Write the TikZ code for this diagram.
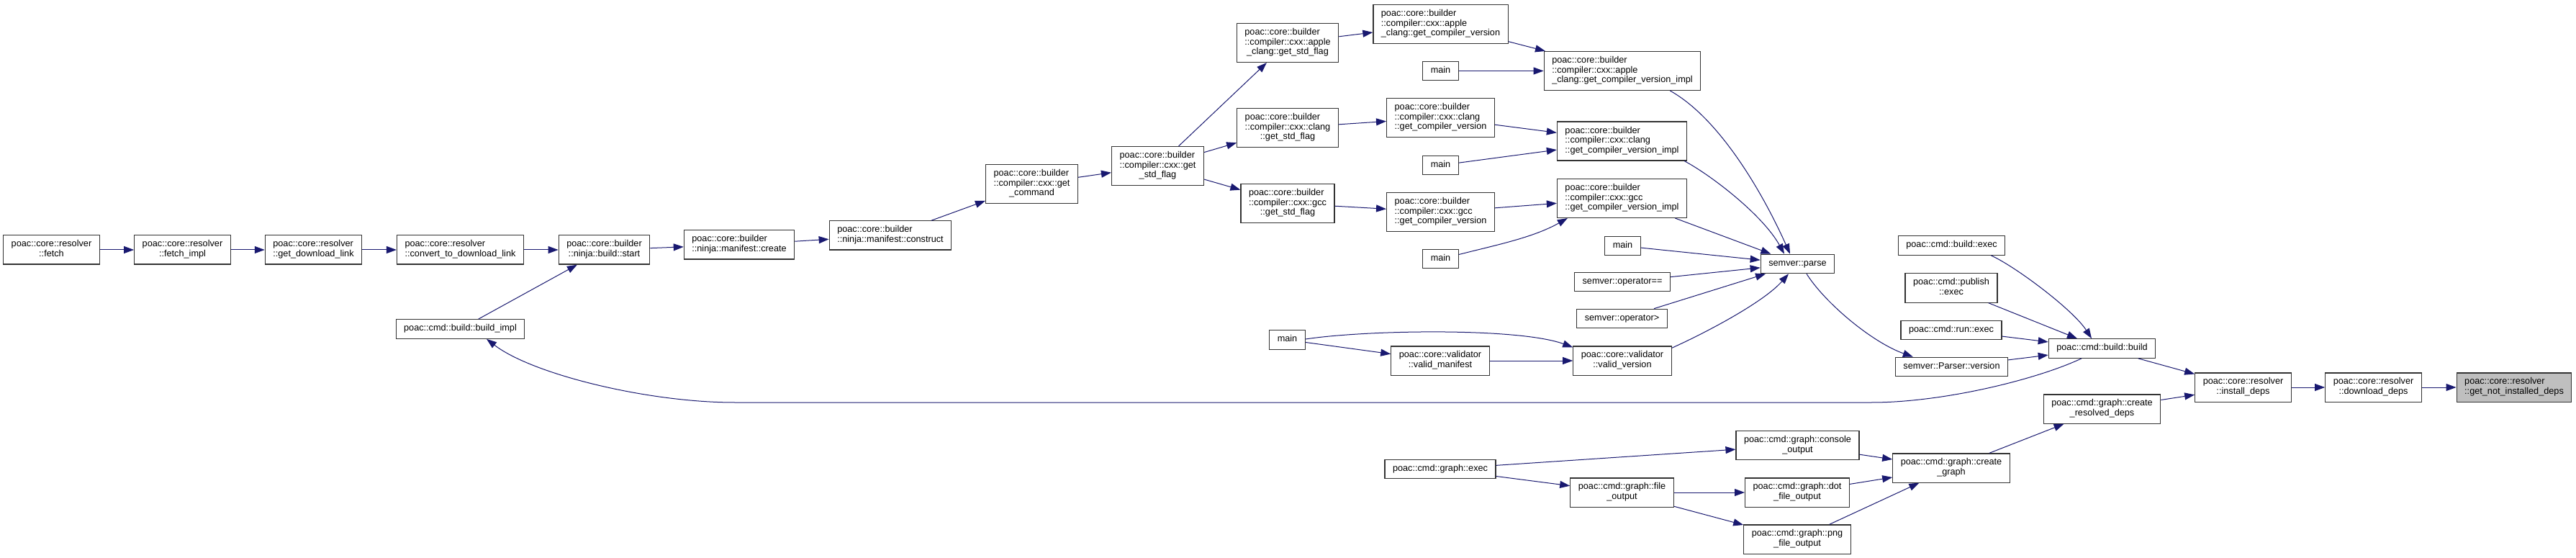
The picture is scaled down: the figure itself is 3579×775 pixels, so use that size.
\documentclass[tikz,border=0pt]{standalone}
\usepackage{fontspec}
\setmainfont{Liberation Sans}
\usetikzlibrary{arrows.meta}
\definecolor{navyedge}{HTML}{191970}
\definecolor{rootgray}{HTML}{BFBFBF}
\definecolor{boxline}{HTML}{333333}
\newcommand{\lbli}[1]{\begin{tabular}{@{}l@{}}#1\end{tabular}}
\newcommand{\lblii}[2]{\begin{tabular}{@{}l@{}}#1\\\multicolumn{1}{@{}c@{}}{#2}\end{tabular}}
\newcommand{\lbliii}[3]{\begin{tabular}{@{}l@{}}#1\\#2\\\multicolumn{1}{@{}c@{}}{#3}\end{tabular}}
\begin{document}
\begin{tikzpicture}[x=1pt,y=-1pt,
  box/.style={draw=boxline, line width=1.2pt, fill=white, inner xsep=11pt, inner ysep=6.4pt,
    font=\fontsize{12.7}{13.7}\selectfont},
  rootbox/.style={box, fill=rootgray},
  calls/.style={draw=navyedge, line width=1pt, -{Triangle[length=14pt,width=10pt]}}]
\fill[white] (0,0) rectangle (3579,775);
\useasboundingbox (0,0) rectangle (3579,775);

% left chain
\node[box] (fetch) at (71.5,347) {\lblii{poac::core::resolver}{::fetch}};
\node[box] (fetchimpl) at (253.5,347) {\lblii{poac::core::resolver}{::fetch\_impl}};
\node[box] (getdl) at (435.5,347) {\lblii{poac::core::resolver}{::get\_download\_link}};
\node[box] (convert) at (639.5,347) {\lblii{poac::core::resolver}{::convert\_to\_download\_link}};
\node[box] (buildimpl) at (639.5,457) {\lbli{poac::cmd::build::build\_impl}};
\node[box] (start) at (839.5,347) {\lblii{poac::core::builder}{::ninja::build::start}};
\node[box] (create) at (1027,340) {\lblii{poac::core::builder}{::ninja::manifest::create}};
\node[box] (construct) at (1237,327) {\lblii{poac::core::builder}{::ninja::manifest::construct}};
\node[box] (getcmd) at (1433.5,255.5) {\lbliii{poac::core::builder}{::compiler::cxx::get}{\_command}};
\node[box] (getstd) at (1608.5,230.5) {\lbliii{poac::core::builder}{::compiler::cxx::get}{\_std\_flag}};

% std flag column
\node[box] (applestd) at (1789,59.5) {\lbliii{poac::core::builder}{::compiler::cxx::apple}{\_clang::get\_std\_flag}};
\node[box] (clangstd) at (1789,177.5) {\lbliii{poac::core::builder}{::compiler::cxx::clang}{::get\_std\_flag}};
\node[box] (gccstd) at (1789,282.5) {\lbliii{poac::core::builder}{::compiler::cxx::gcc}{::get\_std\_flag}};
\node[box] (mainE) at (1788.5,472) {\lbli{main}};

% compiler version column
\node[box] (applever) at (2001.5,33.5) {\lbliii{poac::core::builder}{::compiler::cxx::apple}{\_clang::get\_compiler\_version}};
\node[box] (mainA) at (2001.5,98.5) {\lbli{main}};
\node[box] (clangver) at (2001.5,163.5) {\lbliii{poac::core::builder}{::compiler::cxx::clang}{::get\_compiler\_version}};
\node[box] (mainB) at (2001.5,229.5) {\lbli{main}};
\node[box] (gccver) at (2001.5,294.5) {\lbliii{poac::core::builder}{::compiler::cxx::gcc}{::get\_compiler\_version}};
\node[box] (mainC) at (2001.5,359.5) {\lbli{main}};
\node[box] (validman) at (2001,501) {\lblii{poac::core::validator}{::valid\_manifest}};
\node[box] (gexec) at (2001,651.5) {\lbli{poac::cmd::graph::exec}};

% impl column
\node[box] (appleimpl) at (2254,98.5) {\lbliii{poac::core::builder}{::compiler::cxx::apple}{\_clang::get\_compiler\_version\_impl}};
\node[box] (clangimpl) at (2253.5,196) {\lbliii{poac::core::builder}{::compiler::cxx::clang}{::get\_compiler\_version\_impl}};
\node[box] (gccimpl) at (2253.5,275.5) {\lbliii{poac::core::builder}{::compiler::cxx::gcc}{::get\_compiler\_version\_impl}};
\node[box] (mainD) at (2254.5,341.5) {\lbli{main}};
\node[box] (opeq) at (2254,391.5) {\lbli{semver::operator==}};
\node[box] (opgt) at (2253.5,442.5) {\lbli{semver::operator>}};
\node[box] (validver) at (2254,501) {\lblii{poac::core::validator}{::valid\_version}};
\node[box] (fileout) at (2253.5,684) {\lblii{poac::cmd::graph::file}{\_output}};

% parse column
\node[box] (parse) at (2497.5,366.5) {\lbli{semver::parse}};
\node[box] (console) at (2497.5,618.5) {\lblii{poac::cmd::graph::console}{\_output}};
\node[box] (dotout) at (2497,684) {\lblii{poac::cmd::graph::dot}{\_file\_output}};
\node[box] (pngout) at (2497,749) {\lblii{poac::cmd::graph::png}{\_file\_output}};

% exec column
\node[box] (bexec) at (2711.5,341) {\lbli{poac::cmd::build::exec}};
\node[box] (pexec) at (2711,400) {\lblii{poac::cmd::publish}{::exec}};
\node[box] (rexec) at (2711,458.5) {\lbli{poac::cmd::run::exec}};
\node[box] (pversion) at (2711.5,509.5) {\lbli{semver::Parser::version}};
\node[box] (cgraph) at (2711,650) {\lblii{poac::cmd::graph::create}{\_graph}};

% right part
\node[box] (bbuild) at (2920.5,484) {\lbli{poac::cmd::build::build}};
\node[box] (crdeps) at (2920.5,568) {\lblii{poac::cmd::graph::create}{\_resolved\_deps}};
\node[box] (install) at (3116.5,538) {\lblii{poac::core::resolver}{::install\_deps}};
\node[box] (download) at (3297.5,538) {\lblii{poac::core::resolver}{::download\_deps}};
\node[rootbox] (notinst) at (3493,538) {\lblii{poac::core::resolver}{::get\_not\_installed\_deps}};

% edges
\draw[calls] (fetch) -- (fetchimpl);
\draw[calls] (fetchimpl) -- (getdl);
\draw[calls] (getdl) -- (convert);
\draw[calls] (convert) -- (start);
\draw[calls] (buildimpl) -- (start);
\draw[calls] (start) -- (create);
\draw[calls] (create) -- (construct);
\draw[calls] (construct) -- (getcmd);
\draw[calls] (getcmd) -- (getstd);
\draw[calls] (getstd) -- (applestd);
\draw[calls] (getstd) -- (clangstd);
\draw[calls] (getstd) -- (gccstd);
\draw[calls] (applestd) -- (applever);
\draw[calls] (clangstd) -- (clangver);
\draw[calls] (gccstd) -- (gccver);
\draw[calls] (applever) -- (appleimpl);
\draw[calls] (mainA) -- (appleimpl);
\draw[calls] (clangver) -- (clangimpl);
\draw[calls] (mainB) -- (clangimpl);
\draw[calls] (gccver) -- (gccimpl);
\draw[calls] ([yshift=6pt]mainC.east) .. controls (2080,340) and (2130,330) .. ([xshift=15pt]gccimpl.south west);
\draw[calls] ([xshift=-43pt]appleimpl.south east) .. controls (2390,165) and (2450,270) .. ([xshift=-10.5pt]parse.north);
\draw[calls] ([xshift=-4pt]clangimpl.south east) .. controls (2380,245) and (2450,300) .. ([xshift=-18.5pt]parse.north);
\draw[calls] (gccimpl) -- (parse);
\draw[calls] (mainD) -- (parse);
\draw[calls] (opeq) -- (parse);
\draw[calls] (opgt) -- (parse);
\draw[calls] ([yshift=-3pt]validver.north east) .. controls (2370,462) and (2450,420) .. ([xshift=-12.5pt]parse.south);
\draw[calls] ([xshift=12.5pt]parse.south) .. controls (2535,420) and (2600,475) .. ([xshift=25pt]pversion.north west);
\draw[calls] (mainE) -- (validman);
\draw[calls] ([yshift=1pt]mainE.east) .. controls (1900,458) and (2110,455) .. ([yshift=-2pt]validver.north west);
\draw[calls] (validman) -- (validver);
\draw[calls] ([xshift=-20pt]bexec.south east) .. controls (2800,370) and (2880,430) .. ([xshift=-14.5pt]bbuild.north);
\draw[calls] (pexec) -- (bbuild);
\draw[calls] (rexec) -- (bbuild);
\draw[calls] (pversion) -- (bbuild);
\draw[calls] ([xshift=-28.5pt]bbuild.south) .. controls (2830,527) and (2700,559) .. (2600,559)
  -- (1021,559) .. controls (900,559) and (740,520) .. ([xshift=36.5pt]buildimpl.south);
\draw[calls] (bbuild) -- (install);
\draw[calls] (crdeps) -- (install);
\draw[calls] (install) -- (download);
\draw[calls] (download) -- (notinst);
\draw[calls] (cgraph) -- (crdeps);
\draw[calls] (console) -- (cgraph);
\draw[calls] (dotout) -- (cgraph);
\draw[calls] (pngout) -- (cgraph);
\draw[calls] (gexec) -- (console);
\draw[calls] (gexec) -- (fileout);
\draw[calls] (fileout) -- (dotout);
\draw[calls] (fileout) -- (pngout);
\end{tikzpicture}
\end{document}
